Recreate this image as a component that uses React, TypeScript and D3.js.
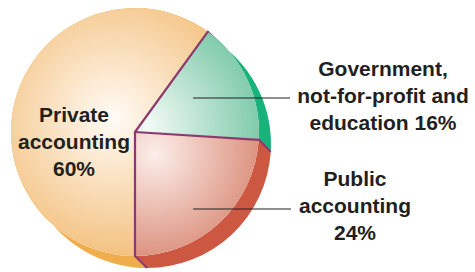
import React from "react";
import * as d3 from "d3";

const categories = ["Private accounting", "Government, not-for-profit and education", "Public accounting"];
const values = [60, 16, 24];
const labelLines = [
  ["Private", "accounting", "60%"],
  ["Government,", "not-for-profit and", "education 16%"],
  ["Public", "accounting", "24%"],
];
const topOuter = ["#F4C383", "#78C8A6", "#D7846E"];
const topInner = ["#FFFBF6", "#F4FAF6", "#FCEEEA"];
const sideColors = ["#EFAD4B", "#18B27B", "#CC5842"];

const W = 475;
const H = 272;
const cx = 135;
const cy = 132;
const R = 124;
const off = { x: 12, y: 12 };
const stroke = "#8A3A6C";
const textColor = "#231F20";

const gradCenters = [
  { x: -22, y: -14, r: 135 },
  { x: 12, y: -6, r: 120 },
  { x: 20, y: 22, r: 120 },
];

const labelPos = [
  { x: 74, y: 122, anchor: "middle" },
  { x: 383, y: 76, anchor: "middle" },
  { x: 355, y: 186, anchor: "middle" },
];
const leaders = [null, { x1: 193, x2: 290, y: 98 }, { x1: 193, x2: 291, y: 209 }];

export default function App() {
  const pie = d3
    .pie<number>()
    .sort(null)
    .startAngle(Math.PI)
    .endAngle(3 * Math.PI)
    .value((d) => d);
  const arcs = pie(values);
  const arcGen = d3.arc<d3.PieArcDatum<number>>().innerRadius(0).outerRadius(R);

  const pt = (a: number, r: number) => [Math.sin(a) * r, -Math.cos(a) * r];

  const sidePath = (a0: number, a1: number) => {
    const p = d3.path();
    const s = pt(a0, R);
    p.moveTo(s[0], s[1]);
    p.arc(0, 0, R, a0 - Math.PI / 2, a1 - Math.PI / 2, false);
    const e = pt(a1, R);
    p.lineTo(e[0] + off.x, e[1] + off.y);
    p.arc(off.x, off.y, R, a1 - Math.PI / 2, a0 - Math.PI / 2, true);
    p.closePath();
    return p.toString();
  };

  return (
    <svg
      width={W}
      height={H}
      style={{ position: "absolute", left: 0, top: 0, background: "#fff" }}
      fontFamily="'Liberation Sans', Arial, Helvetica, sans-serif"
    >
      <defs>
        {arcs.map((a, i) => (
          <radialGradient
            key={i}
            id={`g${i}`}
            gradientUnits="userSpaceOnUse"
            cx={gradCenters[i].x}
            cy={gradCenters[i].y}
            r={gradCenters[i].r}
          >
            <stop offset="0" stopColor={topInner[i]} />
            <stop offset="1" stopColor={topOuter[i]} />
          </radialGradient>
        ))}
      </defs>
      <g transform={`translate(${cx},${cy})`}>
        {arcs.map((a, i) => (
          <path key={`s${i}`} d={sidePath(a.startAngle, a.endAngle)} fill={sideColors[i]} />
        ))}
        {arcs.map((a, i) => {
          const p = pt(a.startAngle, R);
          return (
            <line
              key={`e${i}`}
              x1={p[0]}
              y1={p[1]}
              x2={p[0] + off.x}
              y2={p[1] + off.y}
              stroke={stroke}
              strokeWidth={2}
            />
          );
        })}
        {arcs.map((a, i) => (
          <path key={`t${i}`} d={arcGen(a) || ""} fill={`url(#g${i})`} />
        ))}
        {arcs.map((a, i) => {
          const p = pt(a.startAngle, R);
          return (
            <line key={`r${i}`} x1={0} y1={0} x2={p[0]} y2={p[1]} stroke={stroke} strokeWidth={2.2} strokeLinecap="round" />
          );
        })}
      </g>
      {leaders.map((l, i) =>
        l ? <line key={`l${i}`} x1={l.x1} x2={l.x2} y1={l.y} y2={l.y} stroke={textColor} strokeWidth={1.2} /> : null
      )}
      {labelLines.map((lines, i) => (
        <text
          key={`txt${i}`}
          x={labelPos[i].x}
          y={labelPos[i].y}
          textAnchor={labelPos[i].anchor}
          fontSize={21}
          fontWeight="bold"
          fill={textColor}
        >
          {lines.map((ln, j) => (
            <tspan key={j} x={labelPos[i].x} dy={j === 0 ? 0 : 26.8}>
              {ln}
            </tspan>
          ))}
        </text>
      ))}
    </svg>
  );
}
